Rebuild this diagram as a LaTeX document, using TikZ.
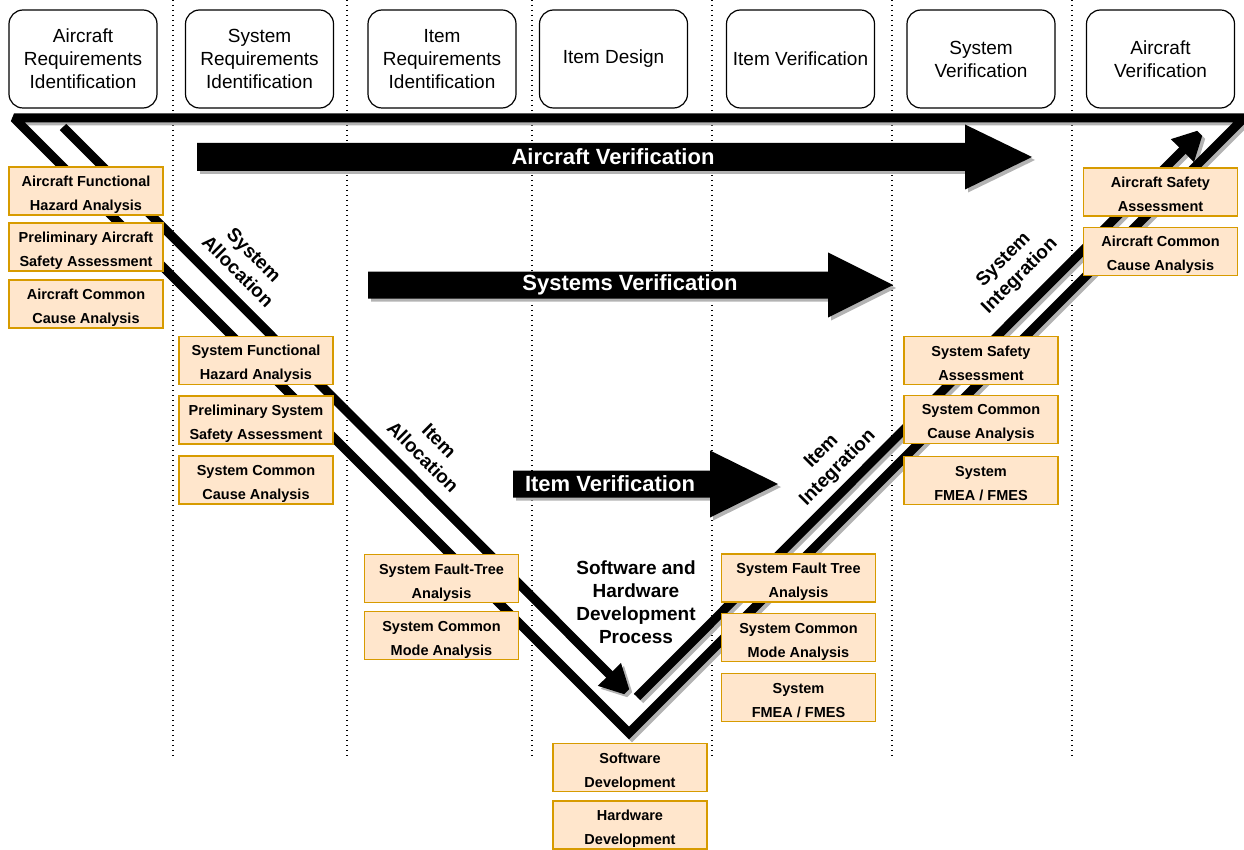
\documentclass[tikz,border=0pt]{standalone}
\usepackage{fontspec}
\setmainfont{Liberation Sans}
\usetikzlibrary{arrows.meta}
\definecolor{obox}{HTML}{FFE6CC}
\definecolor{oline}{HTML}{D79B00}
\definecolor{shadowgray}{HTML}{B3B3B3}
\tikzset{
  hdr/.style={draw=black, line width=1.2pt, rounded corners=14pt, minimum width=148pt, minimum height=98pt, align=center, font=\fontsize{19}{23}\selectfont, inner sep=0pt},
  obx/.style={draw=oline, fill=obox, line width=1.5pt, minimum width=154pt, minimum height=48pt, align=center, font=\bfseries\fontsize{14.5}{24}\selectfont, inner sep=0pt, execute at begin node={\rule[-3pt]{0pt}{45pt}}},
  lbl/.style={align=center, font=\bfseries\fontsize{19}{23}\selectfont, inner sep=0pt},
  vline/.style={line width=9pt, line join=miter, miter limit=2},
  divider/.style={line width=1.3pt, dash pattern=on 1.3pt off 3.7pt},
  arrtxt/.style={text=white, font=\bfseries\fontsize{22}{26}\selectfont, inner sep=0pt},
  tip/.style={-{Triangle[length=32pt,width=30pt]}},
}
\newcommand\blockarr[7]{% color, x1, xbase, xtip, yc, bodyhalf, headhalf
  \fill[color=#1] (#2,{#5-#6}) -- (#3,{#5-#6}) -- (#3,{#5-#7}) -- (#4,#5) -- (#3,{#5+#7}) -- (#3,{#5+#6}) -- (#2,{#5+#6}) -- cycle;}
\begin{document}
\begin{tikzpicture}[x=1pt,y=-1pt]
\useasboundingbox (0,0) rectangle (1244,850);
% dividers
\foreach \x in {173,347,532,712,892,1072}
  \draw[divider] (\x,0) -- (\x,757);
% coordinates of the V
\coordinate (tl) at (14,118);
\coordinate (tr) at (1244,118);
\coordinate (bt) at (629,733);
\coordinate (la1) at (63,127);
\coordinate (la2) at (632,697);
\coordinate (ra1) at (637,697);
\coordinate (ra2) at (1205,128);
% shadows
\begin{scope}[transform canvas={xshift=3pt,yshift=-3pt}]
  \draw[vline, shadowgray] (tl) -- (tr) -- (bt) -- cycle;
  \draw[vline, shadowgray, tip] (la1) -- (la2);
  \draw[vline, shadowgray, tip] (ra1) -- (ra2);
\end{scope}
\blockarr{shadowgray}{200}{968}{1035}{160}{14}{32.5}
\blockarr{shadowgray}{371}{831}{896}{288}{13.5}{32.5}
\blockarr{shadowgray}{516}{713}{781}{487}{13.5}{33.5}
% black
\draw[vline] (tl) -- (tr) -- (bt) -- cycle;
\draw[vline, tip] (la1) -- (la2);
\draw[vline, tip] (ra1) -- (ra2);
\blockarr{black}{197}{965}{1032}{157}{14}{32.5}
\blockarr{black}{368}{828}{893}{285}{13.5}{32.5}
\blockarr{black}{513}{710}{778}{484}{13.5}{33.5}
\node[arrtxt] (avt) at (613,157) {Aircraft Verification};
\node[arrtxt] (svt) at (630,285) {Systems Verification};
\node[arrtxt] (ivt) at (610,484) {Item Verification};
% headers
\node[hdr] (h1) at (83,59) {Aircraft\\Requirements\\Identification};
\node[hdr] (h2) at (259.5,59) {System\\Requirements\\Identification};
\node[hdr] (h3) at (442,59) {Item\\Requirements\\Identification};
\node[hdr] (h4) at (613.5,59) {Item Design};
\node[hdr] (h5) at (800.5,59) {Item Verification};
\node[hdr] (h6) at (981,59) {System\\Verification};
\node[hdr] (h7) at (1160.5,59) {Aircraft\\Verification};
% orange boxes
\node[obx] (a1) at (86,191) {Aircraft Functional\\Hazard Analysis};
\node[obx] (a2) at (86,247) {Preliminary Aircraft\\Safety Assessment};
\node[obx] (a3) at (86,304) {Aircraft Common\\Cause Analysis};
\node[obx] (s1) at (256,360.5) {System Functional\\Hazard Analysis};
\node[obx] (s2) at (256,420) {Preliminary System\\Safety Assessment};
\node[obx] (s3) at (256,480) {System Common\\Cause Analysis};
\node[obx] (i1) at (441.5,578.5) {System Fault-Tree\\Analysis};
\node[obx] (i2) at (441.5,635.5) {System Common\\Mode Analysis};
\node[obx] (d1) at (630,767.5) {Software\\Development};
\node[obx] (d2) at (630,825) {Hardware\\Development};
\node[obx] (v1) at (798.5,578) {System Fault Tree\\Analysis};
\node[obx] (v2) at (798.5,637.5) {System Common\\Mode Analysis};
\node[obx] (v3) at (798.5,697.5) {System\\FMEA / FMES};
\node[obx] (w1) at (981,360.5) {System Safety\\Assessment};
\node[obx] (w2) at (981,419.5) {System Common\\Cause Analysis};
\node[obx] (w3) at (981,480.5) {System\\FMEA / FMES};
\node[obx] (x1) at (1160.5,192) {Aircraft Safety\\Assessment};
\node[obx] (x2) at (1160.5,251.5) {Aircraft Common\\Cause Analysis};
% labels
\node[lbl, rotate=-45] (sa) at (246,263) {System\\Allocation};
\node[lbl, rotate=-45] (ia) at (431,449) {Item\\Allocation};
\node[lbl, rotate=45] (si) at (1012,268) {System\\Integration};
\node[lbl, rotate=45] (ii) at (830,460) {Item\\Integration};
\node[lbl] (swhw) at (636,602) {Software and\\Hardware\\Development\\Process};
\end{tikzpicture}
\end{document}
